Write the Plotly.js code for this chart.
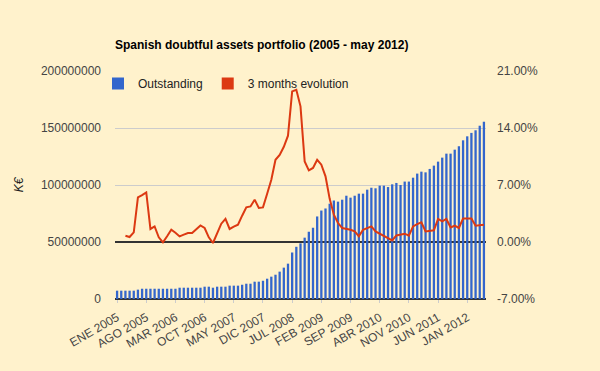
<!DOCTYPE html>
<html>
<head>
<meta charset="utf-8">
<script src="https://cdn.plot.ly/plotly-3.0.1.min.js"></script>
<style>
  html, body { margin: 0; padding: 0; background: #FFF2CC; }
  #chart { width: 600px; height: 371px; }
</style>
</head>
<body>
<div id="chart"></div>
<script>
// Months, Jan 2005 .. May 2012
const months = [
  "2005-01","2005-02","2005-03","2005-04","2005-05","2005-06","2005-07","2005-08","2005-09","2005-10","2005-11","2005-12",
  "2006-01","2006-02","2006-03","2006-04","2006-05","2006-06","2006-07","2006-08","2006-09","2006-10","2006-11","2006-12",
  "2007-01","2007-02","2007-03","2007-04","2007-05","2007-06","2007-07","2007-08","2007-09","2007-10","2007-11","2007-12",
  "2008-01","2008-02","2008-03","2008-04","2008-05","2008-06","2008-07","2008-08","2008-09","2008-10","2008-11","2008-12",
  "2009-01","2009-02","2009-03","2009-04","2009-05","2009-06","2009-07","2009-08","2009-09","2009-10","2009-11","2009-12",
  "2010-01","2010-02","2010-03","2010-04","2010-05","2010-06","2010-07","2010-08","2010-09","2010-10","2010-11","2010-12",
  "2011-01","2011-02","2011-03","2011-04","2011-05","2011-06","2011-07","2011-08","2011-09","2011-10","2011-11","2011-12",
  "2012-01","2012-02","2012-03","2012-04","2012-05"
];

// Outstanding doubtful assets (K€)
const outstanding = [
  7300000, 7300000, 7300000, 7300000, 7300000, 8200000, 9000000, 9000000, 9000000, 9000000, 9000000, 9000000,
  9000000, 9000000, 9000000, 9900000, 9900000, 9900000, 9900000, 9900000, 9900000, 10800000, 10800000, 9900000,
  10800000, 10800000, 10800000, 11700000, 11700000, 11700000, 12500000, 13400000, 13400000, 15200000, 15200000, 16000000,
  17800000, 19600000, 21300000, 24000000, 27500000, 31000000, 40800000, 45800000, 48800000, 53800000, 59000000, 62500000,
  72400000, 77600000, 79400000, 83600000, 86400000, 85400000, 87100000, 90600000, 88900000, 90600000, 92400000, 92400000,
  95900000, 97600000, 97100000, 99400000, 99400000, 98200000, 100600000, 101800000, 100000000, 103000000, 103000000, 106400000,
  110000000, 111700000, 111100000, 114100000, 117000000, 120500000, 124000000, 127500000, 127500000, 131000000, 134000000, 139200000,
  142700000, 145700000, 148000000, 152000000, 155500000
];

// 3 months evolution (%)
const evolution = [
  null, null, 0.77, 0.61, 1.18, 5.48, 5.75, 6.09, 1.60, 1.92, 0.57, -0.05,
  0.71, 1.51, 1.14, 0.69, 0.90, 1.10, 1.10, 1.57, 2.04, 1.72, 0.57, -0.12,
  1.14, 2.25, 2.83, 1.60, 1.88, 2.12, 3.23, 4.25, 4.37, 5.20, 4.18, 4.25,
  5.93, 7.65, 10.10, 10.70, 11.70, 13.06, 18.50, 18.70, 16.66, 9.90, 8.80, 9.09,
  10.10, 9.50, 8.06, 5.30, 3.35, 2.33, 1.72, 1.63, 1.51, 1.30, 0.69, 1.51,
  1.70, 1.92, 1.30, 1.02, 0.69, 0.47, 0.20, 0.81, 0.90, 1.02, 0.77, 1.92,
  2.19, 2.41, 1.30, 1.39, 1.43, 2.83, 2.53, 2.83, 1.79, 2.00, 1.72, 2.90,
  2.90, 2.90, 2.00, 2.06, 2.13
];

// Axis tick labels
const xTickText = ["ENE 2005","AGO 2005","MAR 2006","OCT 2006","MAY 2007","DIC 2007","JUL 2008",
                   "FEB 2009","SEP 2009","ABR 2010","NOV 2010","JUN 2011","JAN 2012"];
const xTickVals = ["2005-01","2005-08","2006-03","2006-10","2007-05","2007-12","2008-07",
                   "2009-02","2009-09","2010-04","2010-11","2011-06","2012-01"];
const leftTickVals = [0, 50000000, 100000000, 150000000, 200000000];
const leftTickText = ["0","50000000","100000000","150000000","200000000"];
const rightTickVals = [-7, 0, 7, 14, 21];
const rightTickText = ["-7.00%","0.00%","7.00%","14.00%","21.00%"];

const FONT = "'Liberation Sans', Arial, sans-serif";
const BLUE = "#3366CC";
const RED = "#DC3912";

const traces = [
  {
    type: "bar", name: "Outstanding", x: months, y: outstanding,
    marker: { color: BLUE }, yaxis: "y", hoverinfo: "x+y"
  },
  {
    type: "scatter", mode: "lines", name: "3 months evolution",
    x: months, y: evolution, yaxis: "y2", showlegend: false,
    line: { color: RED, width: 2 }, connectgaps: false
  },
  {
    type: "bar", name: "3 months evolution", x: [null], y: [null],
    marker: { color: RED }, yaxis: "y", hoverinfo: "skip"
  }
];

const layout = {
  width: 600, height: 371,
  paper_bgcolor: "#FFF2CC", plot_bgcolor: "#FFF2CC",
  font: { family: FONT, size: 12, color: "#444" },
  margin: { l: 115, r: 114, t: 71, b: 72, pad: 0 },
  barmode: "overlay",
  bargap: 0.45,
  title: {
    text: "Spanish doubtful assets portfolio (2005 - may 2012)",
    font: { family: FONT, size: 12, color: "#000", weight: "bold" },
    x: 115 / 600, xanchor: "left", xref: "container",
    y: 1 - 45 / 371, yanchor: "middle", yref: "container"
  },
  showlegend: true,
  legend: {
    orientation: "h", x: -17 / 371, y: 1 + 2 / 228, xanchor: "left", yanchor: "top",
    bgcolor: "rgba(0,0,0,0)", font: { family: FONT, size: 12, color: "#222" },
    traceorder: "normal", itemclick: false
  },
  xaxis: {
    type: "category",
    tickmode: "array", tickvals: xTickVals, ticktext: xTickText,
    tickangle: -30, tickfont: { size: 12, color: "#444" },
    ticks: "outside", ticklen: 3, tickcolor: "#ccc", ticklabelstandoff: 3,
    showgrid: false, zeroline: false, showline: false,
    range: [-0.5, months.length - 0.5]
  },
  yaxis: {
    range: [0, 200000000],
    tickmode: "array", tickvals: leftTickVals, ticktext: leftTickText,
    tickfont: { size: 12, color: "#444" },
    showgrid: true, gridcolor: "#CCCCCC", gridwidth: 1,
    zeroline: true, zerolinecolor: "#333", zerolinewidth: 1.5,
    showline: false, ticks: "", ticklabelstandoff: 13,
    title: { text: "K€", font: { size: 12, color: "#222", style: "italic" }, standoff: 14 }
  },
  yaxis2: {
    overlaying: "y", side: "right",
    range: [-7, 21],
    tickmode: "array", tickvals: rightTickVals, ticktext: rightTickText,
    tickfont: { size: 12, color: "#444" },
    showgrid: false, zeroline: true, zerolinecolor: "#333", zerolinewidth: 1.5,
    showline: false, ticks: "", ticklabelstandoff: 10
  }
};

Plotly.newPlot("chart", traces, layout, { displayModeBar: false, staticPlot: true });
</script>
</body>
</html>
